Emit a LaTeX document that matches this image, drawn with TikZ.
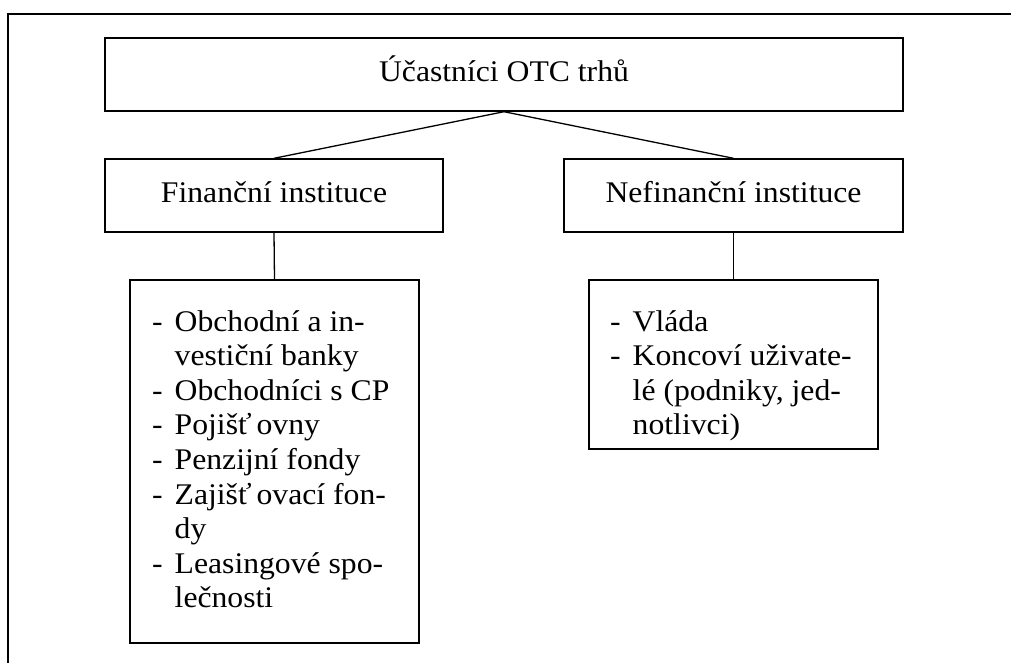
\documentclass[tikz,border=0pt]{standalone}
\usepackage{fontspec}
\setmainfont{Liberation Serif}[FakeStretch=1.056]
\begin{document}
\begin{tikzpicture}[x=1pt,y=-1pt,
  box/.style={draw,line width=1.4pt,inner sep=0pt,text height=22pt,text depth=9pt,
    font=\fontsize{30}{34.6}\selectfont},
  listtext/.style={anchor=north west,inner sep=0pt,align=left,
    font=\fontsize{30}{34.6}\selectfont},
  link/.style={line width=1.3pt}]
\useasboundingbox (0,0) rectangle (1011,662);
% outer frame, running off the page to the right and bottom
\begin{scope}
  \clip (0,0) rectangle (1011,662);
  \draw[line width=1.6pt] (8,14) rectangle (1040,700);
\end{scope}
% boxes
\node[box,minimum width=798pt,minimum height=73pt] (top) at (504,74.5) {Účastníci OTC trhů};
\node[box,minimum width=338pt,minimum height=73pt] (fin) at (274,195.5) {Finanční instituce};
\node[box,minimum width=339pt,minimum height=73pt] (nefin) at (733.5,195.5) {Nefinanční instituce};
\node[draw,line width=1.4pt,minimum width=289pt,minimum height=363pt,inner sep=0pt] (finlist) at (274.5,461.5) {};
\node[draw,line width=1.4pt,minimum width=289pt,minimum height=169pt,inner sep=0pt] (nefinlist) at (733.5,364.5) {};
% list texts
\newcommand{\itm}{\makebox[22.5pt][l]{-}}
\newcommand{\cont}{\hspace*{22.5pt}}
\node[listtext] (fintext) at (152,310) {\rule{0pt}{20pt}\itm Obchodní a in-\\
  \cont vestiční banky\\
  \itm Obchodníci s CP\\
  \itm Pojišť\kern5pt ovny\\
  \itm Penzijní fondy\\
  \itm Zajišť\kern5pt ovací fon-\\
  \cont dy\\
  \itm Leasingové spo-\\
  \cont lečnosti};
\node[listtext] (nefintext) at (610,310) {\rule{0pt}{20pt}\itm Vláda\\
  \itm Koncoví uživate-\\
  \cont lé (podniky, jed-\\
  \cont notlivci)};
% connectors
\draw[link] (top.south) -- (fin.north);
\draw[link] (top.south) -- (nefin.north);
\draw[link] (fin.south) -- (finlist.north);
\draw[link] (nefin.south) -- (nefinlist.north);
\end{tikzpicture}
\end{document}
